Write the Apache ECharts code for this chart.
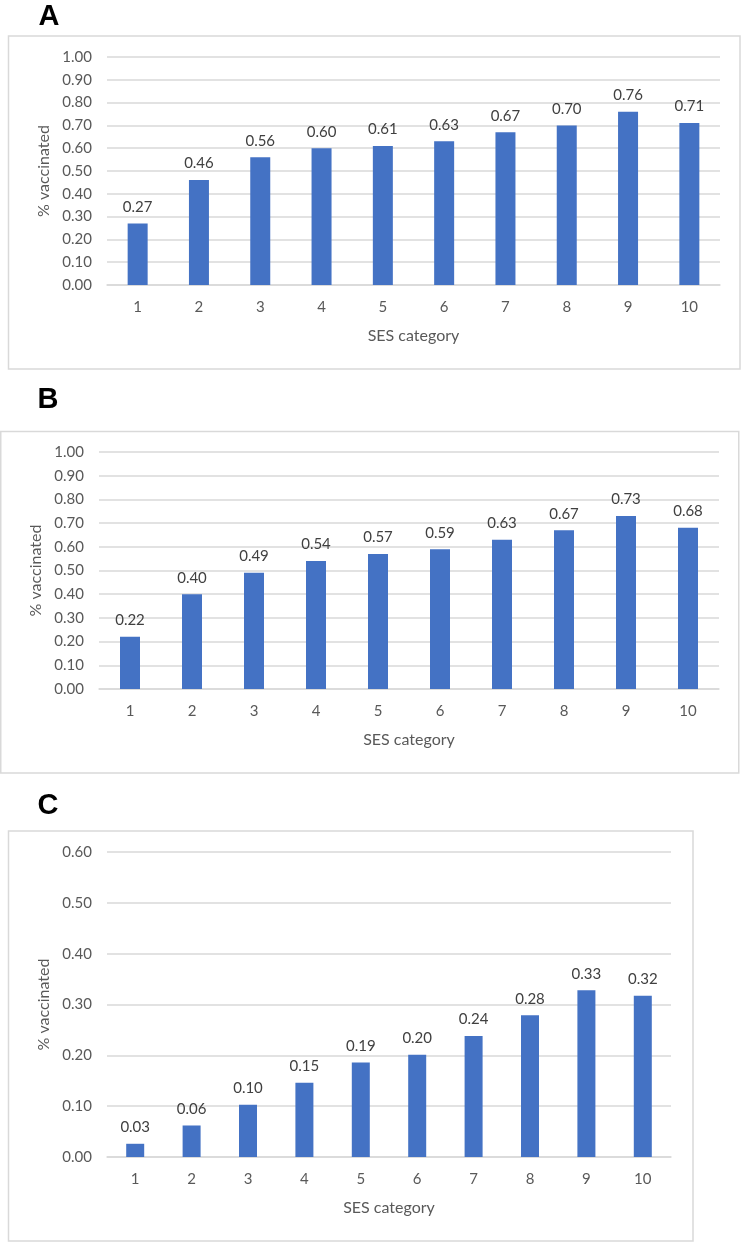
<!DOCTYPE html>
<html>
<head>
<meta charset="utf-8">
<script src="https://cdn.jsdelivr.net/npm/echarts@6/dist/echarts.min.js"></script>
<style>
html,body{margin:0;padding:0;background:#fff;}
#c{width:744px;height:1242px;}
</style>
</head>
<body>
<div id="c"></div>
<script>
const categories = ['1','2','3','4','5','6','7','8','9','10'];
const valuesA = [0.27, 0.46, 0.56, 0.60, 0.61, 0.63, 0.67, 0.70, 0.76, 0.71];
const valuesB = [0.22, 0.40, 0.49, 0.54, 0.57, 0.59, 0.63, 0.67, 0.73, 0.68];
const valuesC = [0.026, 0.062, 0.103, 0.146, 0.186, 0.201, 0.238, 0.279, 0.328, 0.317];
const panelLetters = ['A', 'B', 'C'];
const xTitle = 'SES category';
const yTitle = '% vaccinated';

const FONT = 'Lato, "Open Sans", sans-serif';
const BAR = '#4472C4';
const GRIDC = '#d9d9d9';
const TXT = '#595959';

const grids = [
  {left: 107, top: 57, width: 613, height: 228},
  {left: 99, top: 452, width: 620, height: 237},
  {left: 107, top: 852, width: 564, height: 305}
];
const yMax = [1, 1, 0.6];
const yInt = [0.1, 0.1, 0.1];
const yGap = [53, 53, 53];
const barW = [20, 20, 18];
const data = [valuesA, valuesB, valuesC];

const xAxes = grids.map((g, i) => ({
  type: 'category', gridIndex: i, data: categories,
  name: xTitle, nameLocation: 'middle', nameGap: 43,
  nameTextStyle: {color: TXT, fontSize: 16, fontFamily: FONT},
  axisLine: {show: true, lineStyle: {color: GRIDC, width: 1.5}},
  axisTick: {show: false},
  axisLabel: {color: TXT, fontSize: 15, fontFamily: FONT, margin: 15}
}));
const yAxes = grids.map((g, i) => ({
  type: 'value', gridIndex: i, min: 0, max: yMax[i], interval: yInt[i],
  name: yTitle, nameLocation: 'middle', nameGap: yGap[i], nameRotate: 90,
  nameTextStyle: {color: TXT, fontSize: 16, fontFamily: FONT},
  axisLine: {show: false}, axisTick: {show: false},
  splitLine: {lineStyle: {color: GRIDC, width: 1.5}},
  axisLabel: {color: TXT, fontSize: 15, fontFamily: FONT, margin: 15,
    formatter: v => v.toFixed(2)}
}));
const series = data.map((d, i) => ({
  type: 'bar', xAxisIndex: i, yAxisIndex: i, data: d, barWidth: barW[i],
  itemStyle: {color: BAR},
  label: {show: true, position: 'top', distance: 9, color: '#404040',
    fontSize: 15, fontFamily: FONT, formatter: p => p.value.toFixed(2)},
  animation: false
}));

const boxes = [
  {x: 8.5, y: 36, w: 731.5, h: 333},
  {x: 0.75, y: 431.5, w: 738, h: 341.5},
  {x: 8.5, y: 831, w: 684.5, h: 410}
];
const letterPos = [[49, 17], [48, 400], [48, 806]];

const graphic = [];
boxes.forEach(b => graphic.push({type: 'rect', shape: {x: b.x, y: b.y, width: b.w, height: b.h},
  style: {fill: 'none', stroke: GRIDC, lineWidth: 1.5}, z: -1}));
panelLetters.forEach((L, i) => graphic.push({type: 'text', x: letterPos[i][0], y: letterPos[i][1],
  style: {text: L, fontSize: 29, fontWeight: 'bold', fontFamily: 'Liberation Sans, Arial, sans-serif',
    fill: '#000', align: 'center', verticalAlign: 'middle'}}));

const chart = echarts.init(document.getElementById('c'), null, {renderer: 'canvas'});
chart.setOption({
  animation: false,
  grid: grids,
  xAxis: xAxes,
  yAxis: yAxes,
  series: series,
  graphic: graphic
});
</script>
</body>
</html>
